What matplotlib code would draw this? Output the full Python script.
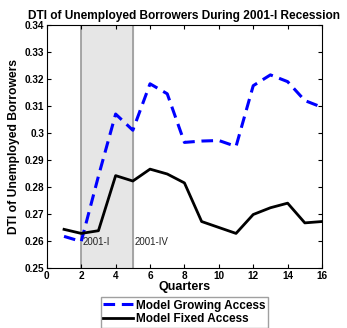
import numpy as np
import matplotlib.pyplot as plt

plt.rcParams['font.family'] = ['Liberation Sans', 'DejaVu Sans']

quarters = np.arange(1, 17)
growing = [0.2617, 0.2598, 0.2840, 0.3070, 0.3010, 0.3182, 0.3145, 0.2965,
           0.2970, 0.2972, 0.2950, 0.3175, 0.3215, 0.3190, 0.3120, 0.3095]
fixed = [0.2643, 0.2628, 0.2638, 0.2842, 0.2822, 0.2866, 0.2848, 0.2815,
         0.2672, 0.2650, 0.2628, 0.2698, 0.2723, 0.2740, 0.2667, 0.2672]
rec_start, rec_end = 2, 5

fig = plt.figure(figsize=(3.47, 3.28), dpi=100)
ax = fig.add_axes([0.135, 0.183, 0.793, 0.741])

ax.axvspan(rec_start, rec_end, color='#e6e6e6', zorder=0)
ax.axvline(rec_start, color='#999999', lw=1.2, zorder=1)
ax.axvline(rec_end, color='#999999', lw=1.2, zorder=1)

ax.plot(quarters, growing, color='blue', ls=(0, (3.8, 2.2)), lw=2.2, label='Model Growing Access', zorder=3)
ax.plot(quarters, fixed, color='black', lw=2, label='Model Fixed Access', zorder=3)

ax.text(rec_start + 0.1, 0.2595, '2001-I', fontsize=7, va='center', color='#222222')
ax.text(rec_end + 0.1, 0.2595, '2001-IV', fontsize=7, va='center', color='#222222')

ax.set_xlim(0, 16)
ax.set_ylim(0.25, 0.34)
ax.set_xticks(range(0, 17, 2))
ax.set_yticks(np.arange(0.25, 0.3401, 0.01))
ax.set_yticklabels(['0.25', '0.26', '0.27', '0.28', '0.29', '0.3', '0.31', '0.32', '0.33', '0.34'])
ax.tick_params(direction='in', top=True, right=True, labelsize=7.2, length=3, pad=2)
for lab in ax.get_xticklabels() + ax.get_yticklabels():
    lab.set_fontweight('bold')

ax.set_xlabel('Quarters', fontsize=9, fontweight='bold', labelpad=0)
ax.set_ylabel('DTI of Unemployed Borrowers', fontsize=8.7, fontweight='bold', labelpad=3)
ax.set_title('DTI of Unemployed Borrowers During 2001-I Recession', fontsize=8.6, fontweight='bold', pad=4)

leg = ax.legend(loc='upper center', bbox_to_anchor=(0.5, -0.12), fontsize=8.5, frameon=True,
                fancybox=False, edgecolor='#888888', handlelength=2.5, handletextpad=0.3,
                borderpad=0.2, labelspacing=0.15, borderaxespad=0)
for t in leg.get_texts():
    t.set_fontweight('bold')

fig.savefig('out.png', dpi=100)
